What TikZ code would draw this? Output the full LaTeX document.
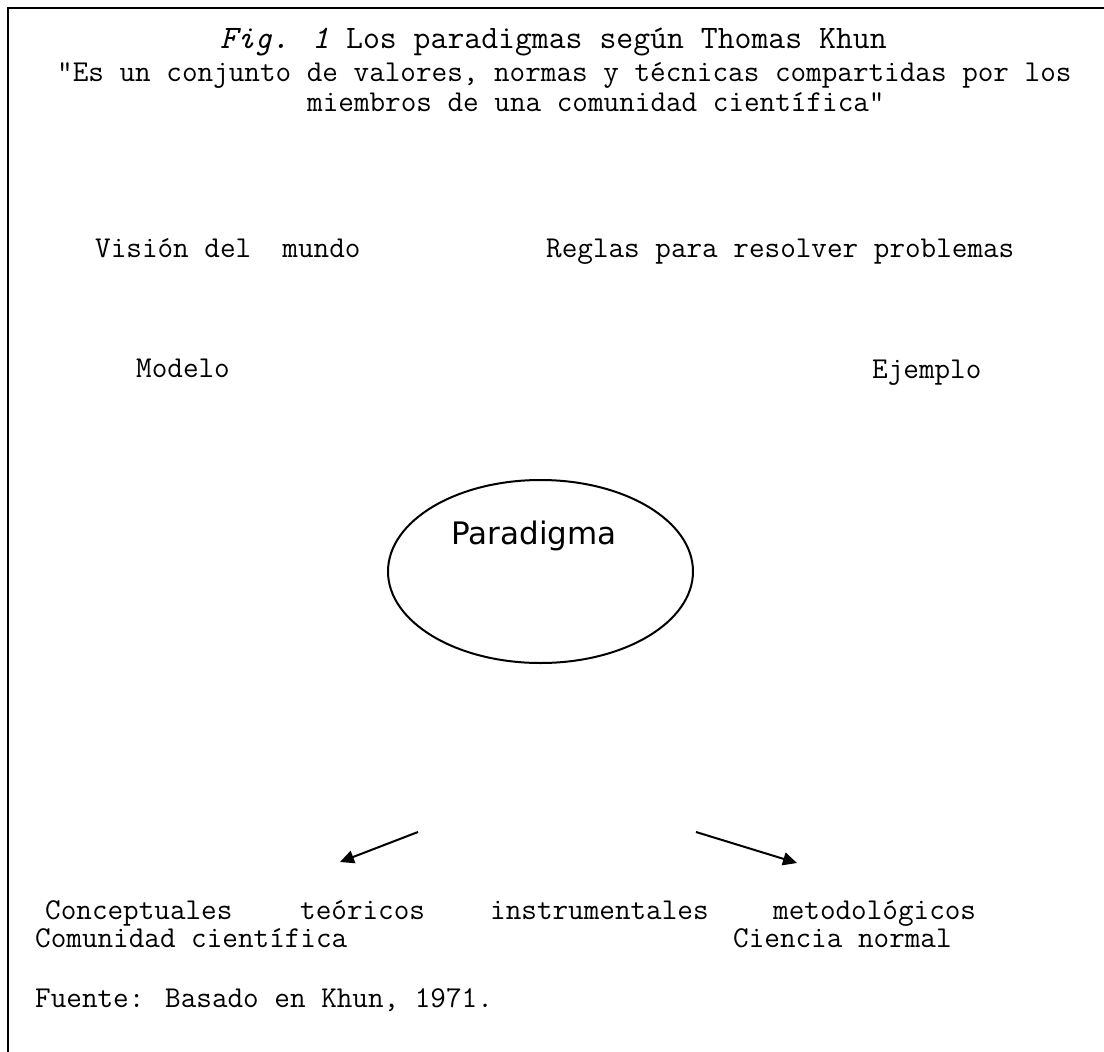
\documentclass[tikz,border=0pt]{standalone}
\usepackage{fontspec}
\newfontfamily\sansf{DejaVu Sans}
\usetikzlibrary{shapes.geometric,arrows.meta}
\begin{document}
\begin{tikzpicture}[x=1pt,y=-1pt,
  txt/.style={font=\ttfamily\fontsize{30.3}{34}\selectfont, inner sep=0pt, anchor=base west},
  ttl/.style={font=\ttfamily\fontsize{32.8}{36}\selectfont, inner sep=0pt, anchor=base west},
  arr/.style={line width=2pt, -{Triangle[length=14pt,width=13pt]}}]
\useasboundingbox (0,0) rectangle (1104,1052);
\draw[line width=2pt] (8,1052) -- (8,8) -- (1104,8);
\node[ttl] (title) at (220,48) {\textit{Fig. 1} Los paradigmas según Thomas Khun};
\node[txt] (q1) at (57,81) {"Es un conjunto de valores, normas y técnicas compartidas por los};
\node[txt] (q2) at (307,111) {miembros de una comunidad científica"};
\node[txt] (vision) at (95,257) {Visión del\ \ mundo};
\node[txt] (reglas) at (546,257) {Reglas para resolver problemas};
\node[txt] (modelo) at (136,377) {Modelo};
\node[txt] (ejemplo) at (872,378) {Ejemplo};
\node[draw, line width=2pt, ellipse, minimum width=305pt, minimum height=183pt, inner sep=0pt] (par) at (540.5,571.5) {};
\node[font=\sansf\fontsize{31}{34}\selectfont, inner sep=0pt, anchor=base] (partxt) at (534,544) {Paradigma};
\coordinate (l1) at (418,832);
\coordinate (l2) at (340,862);
\coordinate (r1) at (696,832);
\coordinate (r2) at (797,863);
\draw[arr] (l1) -- (l2);
\draw[arr] (r1) -- (r2);
\node[txt] (conc) at (45,919) {Conceptuales};
\node[txt] (teor) at (300,919) {teóricos};
\node[txt] (inst) at (490,919) {instrumentales};
\node[txt] (meto) at (773,919) {metodológicos};
\node[txt] (comu) at (35,947) {Comunidad científica};
\node[txt] (cien) at (733,947) {Ciencia normal};
\node[txt] (fuente) at (35,1007) {Fuente: Basado en Khun, 1971.};
\end{tikzpicture}
\end{document}
